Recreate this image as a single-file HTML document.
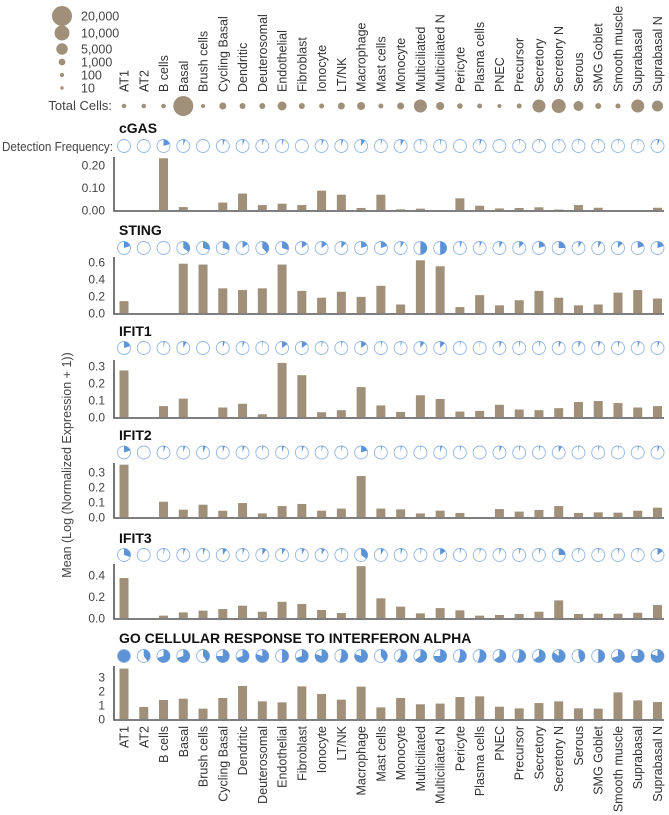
<!DOCTYPE html>
<html><head><meta charset="utf-8"><style>
html,body{margin:0;padding:0;background:#fff;}
svg{display:block;font-family:"Liberation Sans",Arial,sans-serif;}
</style></head><body>
<svg id="chart" width="669" height="815" viewBox="0 0 669 815" xmlns="http://www.w3.org/2000/svg"></svg>
<script>
const categories = ["AT1","AT2","B cells","Basal","Brush cells","Cycling Basal","Dendritic","Deuterosomal","Endothelial","Fibroblast","Ionocyte","LT/NK","Macrophage","Mast cells","Monocyte","Multiciliated","Multiciliated N","Pericyte","Plasma cells","PNEC","Precursor","Secretory","Secretory N","Serous","SMG Goblet","Smooth muscle","Suprabasal","Suprabasal N"];
const totalCells = [178,178,178,20000,70,1111,625,625,2500,625,278,1111,1736,278,1111,6944,1736,470,278,70,278,6944,8400,3400,625,278,6944,4444];
const legendCounts = [20000,10000,5000,1000,100,10];
const legendLabels = ["20,000","10,000","5,000","1,000","100","10"];
const panelNames = ["cGAS","STING","IFIT1","IFIT2","IFIT3","GO CELLULAR RESPONSE TO INTERFERON ALPHA"];
const cgasMean = [0,0,0.23,0.013,0,0.033,0.073,0.022,0.028,0.022,0.086,0.068,0.009,0.068,0.003,0.006,0,0.052,0.019,0.007,0.009,0.012,0.002,0.022,0.01,0,0,0.01];
const cgasFreq = [0,0,0.2,0.05,0,0.05,0.05,0.04,0.04,0,0.05,0.05,0.1,0.03,0.08,0.03,0.03,0,0.05,0,0.02,0.02,0.02,0.02,0.02,0.02,0.02,0.05];
const stingMean = [0.14,0,0,0.58,0.57,0.29,0.27,0.29,0.57,0.26,0.18,0.25,0.19,0.32,0.10,0.62,0.55,0.07,0.21,0.09,0.15,0.26,0.18,0.09,0.10,0.24,0.27,0.17];
const stingFreq = [0.2,0,0,0.35,0.3,0.3,0.15,0.38,0.3,0.15,0.15,0.12,0.2,0.2,0.08,0.5,0.5,0.05,0.05,0.08,0.12,0.2,0.25,0.08,0.08,0.12,0.2,0.2];
const ifit1Mean = [0.274,0,0.064,0.108,0,0.056,0.078,0.016,0.318,0.246,0.028,0.04,0.176,0.068,0.03,0.128,0.106,0.032,0.036,0.072,0.044,0.04,0.052,0.088,0.094,0.082,0.056,0.064];
const ifit1Freq = [0.2,0,0.03,0.08,0,0.05,0.05,0.02,0.15,0.15,0.03,0.03,0.15,0.03,0.03,0.1,0.12,0.02,0.02,0.06,0.03,0.03,0.06,0.06,0.06,0.04,0.05,0.05];
const ifit2Mean = [0.349,0,0.102,0.049,0.082,0.042,0.093,0.024,0.073,0.087,0.042,0.056,0.273,0.056,0.051,0.024,0.042,0.027,0,0.053,0.036,0.047,0.073,0.027,0.031,0.029,0.042,0.062];
const ifit2Freq = [0.2,0,0.05,0.05,0.07,0.05,0.05,0.03,0.05,0.05,0.03,0.03,0.2,0.03,0.03,0.02,0.05,0.03,0,0.06,0.03,0.03,0.08,0.02,0.03,0.02,0.03,0.05];
const ifit3Mean = [0.37,0,0.022,0.052,0.068,0.083,0.114,0.058,0.15,0.13,0.074,0.046,0.48,0.182,0.105,0.043,0.092,0.071,0.022,0.028,0.037,0.058,0.163,0.037,0.04,0.04,0.049,0.12];
const ifit3Freq = [0.3,0,0.03,0.05,0.05,0.1,0.05,0.1,0.08,0.07,0.08,0.03,0.35,0.08,0.05,0.03,0.15,0.03,0.03,0.04,0.04,0.04,0.25,0.03,0.03,0.03,0.03,0.15];
const goMean = [3.6,0.86,1.36,1.45,0.74,1.5,2.36,1.26,1.19,2.33,1.79,1.38,2.31,0.83,1.5,1.05,1.1,1.57,1.62,0.88,0.76,1.14,1.26,0.76,0.74,1.9,1.33,1.21];
const goFreq = [1,0.4,0.7,0.7,0.4,0.75,0.7,0.8,0.5,0.7,0.8,0.55,0.8,0.4,0.6,0.65,0.75,0.55,0.55,0.65,0.55,0.65,0.85,0.45,0.5,0.7,0.75,0.8];
const cgasTicks = [0,0.1,0.2];
const stingTicks = [0,0.2,0.4,0.6];
const ifit1Ticks = [0,0.1,0.2,0.3];
const ifit2Ticks = [0,0.1,0.2,0.3];
const ifit3Ticks = [0,0.2,0.4];
const goTicks = [0,1,2,3];

const NS="http://www.w3.org/2000/svg";
const svg=document.getElementById('chart');
function mk(tag,attrs,parent){const e=document.createElementNS(NS,tag);for(const k in attrs)e.setAttribute(k,attrs[k]);(parent||svg).appendChild(e);return e;}
function xPos(i){return 124+i*(657.5-124)/(categories.length-1);}
function rad(n){return 1.5+Math.sqrt(n)*0.06;}
const BAR="#a09079", PIE="#5b93d6", PIESTROKE="#93b6e2";

legendCounts.forEach((n,i)=>{
  const y=[16,33,49,62,75,88][i];
  const c=mk('circle',{cx:62,cy:y,r:rad(n),fill:BAR});
  
  
  const t=mk('text',{x:81,y:y+4.5,'font-size':12.5,fill:'#444'});
  t.textContent=legendLabels[i];
  
  
});
categories.forEach((c,i)=>{
  const x=xPos(i);
  const t=mk('text',{x:0,y:0,transform:`translate(${x+4.5},92) rotate(-90)`,'font-size':12.5,fill:'#333'});
  t.textContent=c;
  
  
  const d=mk('circle',{cx:x,cy:106,r:rad(totalCells[i]),fill:BAR});
  
  
  const b=mk('text',{x:0,y:0,transform:`translate(${x+4.5},726) rotate(-90)`,'font-size':12.5,fill:'#333','text-anchor':'end'});
  b.textContent=c;
  
  
});
let t=mk('text',{x:112,y:110,'font-size':13,fill:'#444','text-anchor':'end'});t.textContent='Total Cells:';


t=mk('text',{x:2,y:151,'font-size':12.5,fill:'#444',textLength:111,lengthAdjust:'spacingAndGlyphs'});t.textContent='Detection Frequency:';


t=mk('text',{x:0,y:0,transform:'translate(71,465) rotate(-90)','font-size':12.5,fill:'#444','text-anchor':'middle'});t.textContent='Mean (Log (Normalized Expression + 1))';



const panels=[
 {mean:cgasMean,freq:cgasFreq,ticks:cgasTicks,dec:2,title:133,pie:146,zero:210,ppu:225,top:157},
 {mean:stingMean,freq:stingFreq,ticks:stingTicks,dec:1,title:235,pie:248,zero:313,ppu:85,top:257},
 {mean:ifit1Mean,freq:ifit1Freq,ticks:ifit1Ticks,dec:1,title:336,pie:348,zero:417,ppu:170,top:360},
 {mean:ifit2Mean,freq:ifit2Freq,ticks:ifit2Ticks,dec:1,title:440,pie:452.5,zero:517,ppu:150,top:463},
 {mean:ifit3Mean,freq:ifit3Freq,ticks:ifit3Ticks,dec:1,title:543,pie:555,zero:618,ppu:108,top:564},
 {mean:goMean,freq:goFreq,ticks:goTicks,dec:0,title:643,pie:656,zero:719,ppu:14,top:666}
];
function piePath(cx,cy,r,f){
  const a=f*2*Math.PI, x=cx+r*Math.sin(a), y=cy-r*Math.cos(a);
  return `M${cx},${cy} L${cx},${cy-r} A${r},${r} 0 ${f>0.5?1:0} 1 ${x.toFixed(2)},${y.toFixed(2)} Z`;
}
panels.forEach((p,pi)=>{
  const g=mk('g',{});
  
  
  const tt=mk('text',{x:119,y:p.title,'font-size':14,'font-weight':'bold',fill:'#111'},g);
  tt.textContent=panelNames[pi];
  
  
  p.mean.forEach((v,i)=>{
    const x=xPos(i), h=v*p.ppu;
    const f=p.freq[i];
    const c=mk('circle',{cx:x,cy:p.pie,r:6.5,fill:'#fff',stroke:PIESTROKE,'stroke-width':0.9},g);
    
    
    if(f>=0.999){c.setAttribute('fill',PIE);}
    else if(f>0){
      const w=mk('path',{d:piePath(x,p.pie,6.5,f),fill:PIE},g);
      
      
    }
    if(h>0){
      const r=mk('rect',{x:x-4.5,y:p.zero-h,width:9,height:h,fill:BAR},g);
      
      
    }
  });
  p.ticks.forEach(v=>{
    const tx=mk('text',{x:105,y:p.zero-v*p.ppu+4.5,'font-size':12,fill:'#444','text-anchor':'end'},g);
    tx.textContent=v.toFixed(p.dec);
    
    
  });
  const ax=mk('path',{d:`M114,${p.top} L114,${p.zero+1} L664,${p.zero+1}`,fill:'none',stroke:'#555','stroke-width':1.6},g);
  
  
});
</script>
</body></html>
